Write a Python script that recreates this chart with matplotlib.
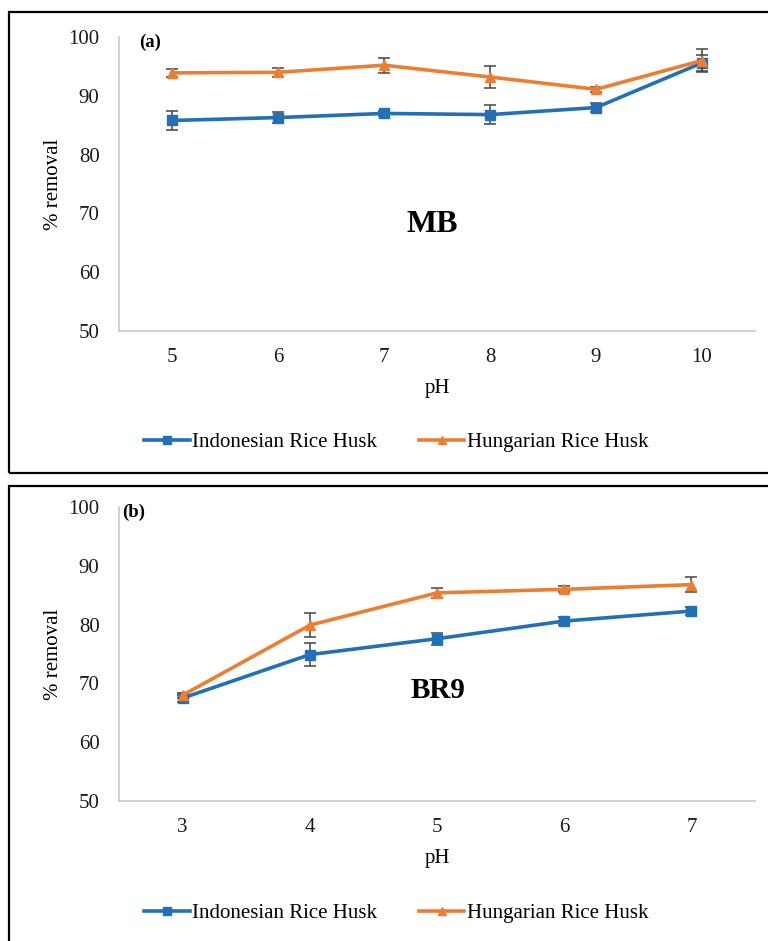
import matplotlib.pyplot as plt
from matplotlib.patches import Rectangle
from matplotlib.lines import Line2D

plt.rcParams['font.family'] = ['Liberation Serif', 'DejaVu Serif']

# Panel (a): MB removal vs pH
ph_a = ["5", "6", "7", "8", "9", "10"]
indo_a = [85.8, 86.3, 87.0, 86.8, 88.0, 95.6]
indo_a_err = [1.6, 1.0, 0.5, 1.6, 0.7, 1.3]
hung_a = [93.9, 94.0, 95.2, 93.2, 91.1, 96.0]
hung_a_err = [0.7, 0.8, 1.3, 1.8, 0.4, 2.0]

# Panel (b): BR9 removal vs pH
ph_b = ["3", "4", "5", "6", "7"]
indo_b = [67.5, 74.9, 77.6, 80.6, 82.3]
indo_b_err = [0.6, 2.0, 1.0, 0.7, 0.7]
hung_b = [68.0, 79.9, 85.4, 86.0, 86.8]
hung_b_err = [0.4, 2.0, 0.9, 0.5, 1.3]

yticks = [50, 60, 70, 80, 90, 100]
series_names = ["Indonesian Rice Husk", "Hungarian Rice Husk"]
BLUE = "#2170B8"
ORANGE = "#ED7D31"
ERR = "#444444"
FS = 15

W, H = 768, 941
fig = plt.figure(figsize=(W / 100, H / 100), dpi=100)


def fx(px):
    return px / W


def fy(py):
    return 1 - py / H


# Frames around the two panels
fig.patches.append(Rectangle((fx(9), fy(473)), fx(800), fy(12) - fy(473),
                             transform=fig.transFigure, fill=False,
                             edgecolor="black", linewidth=1.6))
fig.patches.append(Rectangle((fx(9), fy(960)), fx(800), fy(486) - fy(960),
                             transform=fig.transFigure, fill=False,
                             edgecolor="black", linewidth=1.6))


def panel(top_px, bottom_px, cats, indo, indo_err, hung, hung_err,
          tag, tag_x, title, title_xy, title_fs, legend_y):
    ax = fig.add_axes([fx(119), fy(bottom_px), fx(755) - fx(119),
                       fy(top_px) - fy(bottom_px)])
    x = list(range(len(cats)))
    ax.errorbar(x, indo, yerr=indo_err, color=BLUE, lw=2.6,
                marker="s", ms=7.5, mec=BLUE, mfc=BLUE,
                ecolor=ERR, elinewidth=1.1, capsize=4.5, capthick=1.1,
                zorder=3)
    ax.errorbar(x, hung, yerr=hung_err, color=ORANGE, lw=2.6,
                marker="^", ms=7.5, mec=ORANGE, mfc=ORANGE,
                ecolor=ERR, elinewidth=1.1, capsize=4.5, capthick=1.1,
                zorder=4)
    ax.set_xlim(-0.5, len(cats) - 0.5)
    ax.set_ylim(50, 100)
    ax.set_xticks(x)
    ax.set_xticklabels(cats)
    ax.set_yticks(yticks)
    ax.tick_params(length=0, labelsize=FS, pad=12, colors="#1a1a1a")
    ax.tick_params(axis="y", pad=14)
    for side in ("top", "right"):
        ax.spines[side].set_visible(False)
    for side in ("left", "bottom"):
        ax.spines[side].set_color("#C8C8C8")
        ax.spines[side].set_linewidth(1.2)
    ax.set_xlabel("pH", fontsize=FS, labelpad=9)
    ax.set_ylabel("% removal", fontsize=FS, labelpad=4)
    fig.text(fx(tag_x), fy(top_px - 3), tag, fontsize=13.5,
             fontweight="bold", va="top", ha="left")
    fig.text(fx(title_xy[0]), fy(title_xy[1]), title, fontsize=title_fs,
             fontweight="bold", ha="center", va="center")
    handles = [Line2D([], [], color=BLUE, lw=2.6, marker="s", ms=6),
               Line2D([], [], color=ORANGE, lw=2.6, marker="^", ms=6)]
    fig.legend(handles, series_names, loc="center",
               bbox_to_anchor=(fx(396), fy(legend_y)), ncol=2, frameon=False,
               fontsize=FS, handlelength=2.2, handletextpad=0.1,
               columnspacing=2.0)
    return ax


panel(37, 331, ph_a, indo_a, indo_a_err, hung_a, hung_a_err,
      "(a)", 139, "MB", (432, 224), 23, 442)
panel(507, 801, ph_b, indo_b, indo_b_err, hung_b, hung_b_err,
      "(b)", 122, "BR9", (438, 691), 21, 913)

fig.savefig("out.png", dpi=100)
